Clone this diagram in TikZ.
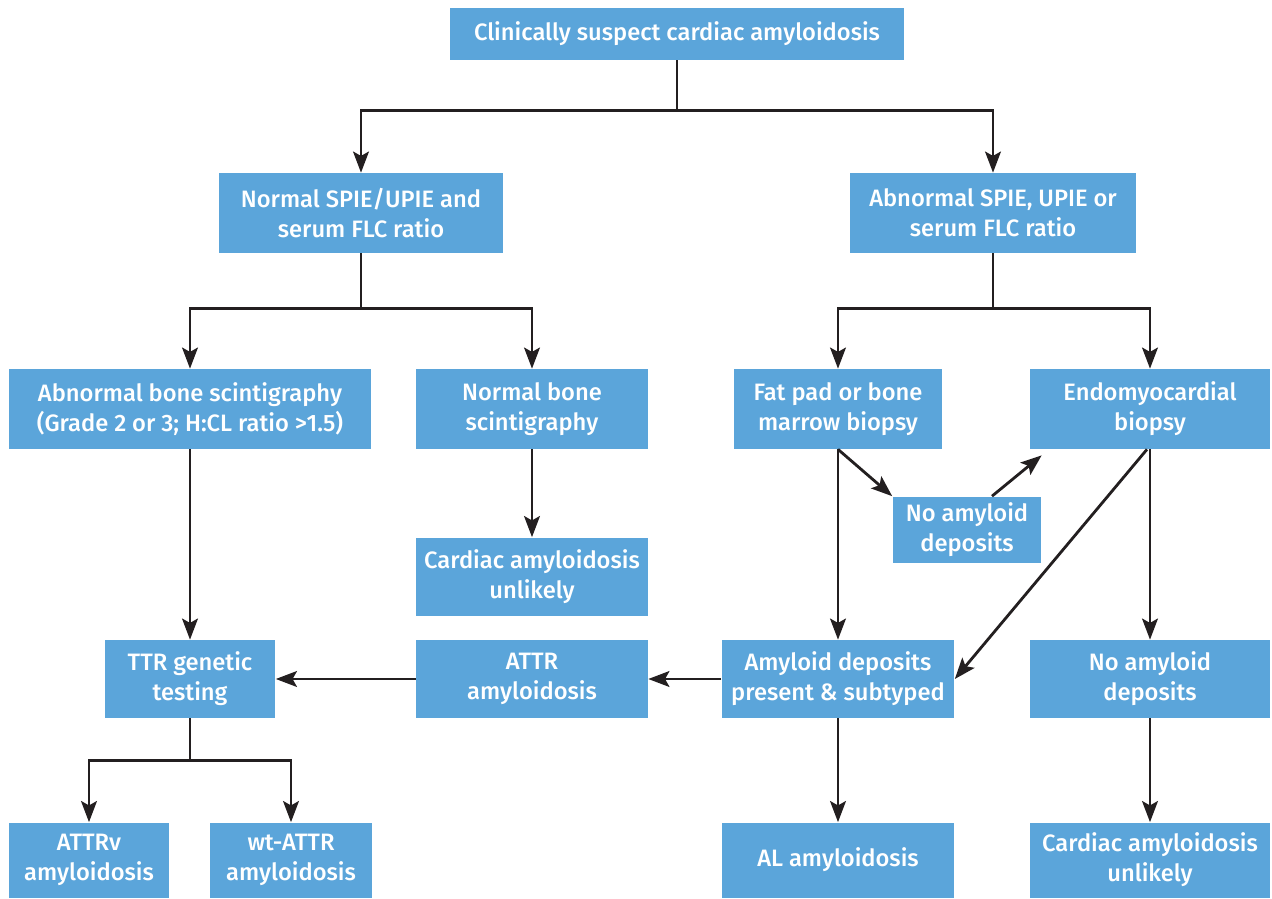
\documentclass[tikz,border=0pt]{standalone}
\usepackage{fontspec}
\setmainfont{Fira Sans}[UprightFont={* Medium}]
\usepackage{xcolor}
\usetikzlibrary{arrows.meta}
\definecolor{boxblue}{HTML}{5BA5DA}
\definecolor{linegray}{HTML}{231F20}

\begin{document}
\begin{tikzpicture}[x=0.02cm,y=-0.02cm,
		box/.style={fill=boxblue,text=white,align=center,inner sep=0pt,font=\fontsize{13.5}{17}\selectfont},
		arr/.style={draw=linegray,line width=1.6pt,-{Stealth[length=12pt,width=9pt,inset=2.5pt]}}]
		\useasboundingbox (0,0) rectangle (1272,899);
		% top
		\node[box,minimum width=9.08cm,minimum height=1.04cm] (suspect) at (677,34) {Clinically suspect cardiac amyloidosis};
		% second row
		\node[box,minimum width=5.68cm,minimum height=1.6cm] (normspie) at (361,213) {Normal SPIE/UPIE and\\serum FLC ratio};
		\node[box,minimum width=5.72cm,minimum height=1.6cm] (abspie) at (993,213) {Abnormal SPIE, UPIE or\\serum FLC ratio};
		% third row
		\node[box,minimum width=7.26cm,minimum height=1.6cm] (absbone) at (190,409) {Abnormal bone scintigraphy\\(Grade 2 or 3; H:CL ratio >1.5)};
		\node[box,minimum width=4.64cm,minimum height=1.6cm] (normbone) at (532,409) {Normal bone\\scintigraphy};
		\node[box,minimum width=4.18cm,minimum height=1.6cm] (fatpad) at (838,409) {Fat pad or bone\\marrow biopsy};
		\node[box,minimum width=4.8cm,minimum height=1.6cm] (endo) at (1150,409) {Endomyocardial\\biopsy};
		% middle
		\node[box,minimum width=2.98cm,minimum height=1.34cm] (noamyA) at (967,530) {No amyloid\\deposits};
		\node[box,minimum width=4.64cm,minimum height=1.58cm] (unlikelyA) at (532,577) {Cardiac amyloidosis\\unlikely};
		% fourth row
		\node[box,minimum width=3.42cm,minimum height=1.56cm] (ttr) at (190,679) {TTR genetic\\testing};
		\node[box,minimum width=4.64cm,minimum height=1.56cm] (attr) at (532,679) {ATTR\\amyloidosis};
		\node[box,minimum width=4.66cm,minimum height=1.56cm] (present) at (838,679) {Amyloid deposits\\present \& subtyped};
		\node[box,minimum width=4.8cm,minimum height=1.56cm] (noamyB) at (1150,679) {No amyloid\\deposits};
		% bottom row
		\node[box,minimum width=3.22cm,minimum height=1.5cm] (attrv) at (89,860) {ATTRv\\amyloidosis};
		\node[box,minimum width=3.24cm,minimum height=1.5cm] (wtattr) at (291,860) {wt-ATTR\\amyloidosis};
		\node[box,minimum width=4.66cm,minimum height=1.5cm] (al) at (838,860) {AL amyloidosis};
		\node[box,minimum width=4.8cm,minimum height=1.5cm] (unlikelyB) at (1150,860) {Cardiac amyloidosis\\unlikely};
		% arrows
		\draw[arr] (suspect.south) -- ++(0,50) -| (normspie.north);
		\draw[arr] (suspect.south) -- ++(0,50) -| (abspie.north);
		\draw[arr] (normspie.south) -- ++(0,55) -| (absbone.north);
		\draw[arr] (normspie.south) -- ++(0,55) -| (normbone.north);
		\draw[arr] (abspie.south) -- ++(0,55) -| (fatpad.north);
		\draw[arr] (abspie.south) -- ++(0,55) -| (endo.north);
		\draw[arr] (absbone) -- (ttr);
		\draw[arr] (normbone) -- (unlikelyA);
		\draw[arr] (fatpad) -- (present);
		\draw[arr] (fatpad.south) -- (noamyA.north west);
		\coordinate (endotip) at ([xshift=0.24cm,yshift=-0.12cm]endo.south west);
		\draw[arr] ([xshift=0.5cm]noamyA.north) -- (endotip);
		\draw[arr] ([xshift=-0.06cm]endo.south) -- (present.east);
		\draw[arr] (endo) -- (noamyB);
		\draw[arr] (present) -- (attr);
		\draw[arr] (attr) -- (ttr);
		\draw[arr] (present) -- (al);
		\draw[arr] (noamyB) -- (unlikelyB);
		\draw[arr] (ttr.south) -- ++(0,42) -| (attrv.north);
		\draw[arr] (ttr.south) -- ++(0,42) -| (wtattr.north);
\end{tikzpicture}
\end{document}
